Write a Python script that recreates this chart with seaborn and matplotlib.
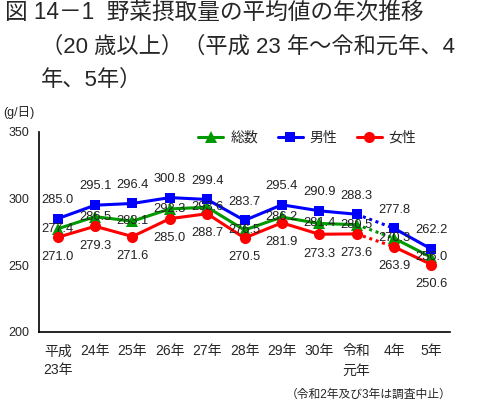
import matplotlib
matplotlib.use("Agg")
import matplotlib.pyplot as plt
import seaborn as sns
import pandas as pd
import numpy as np

categories = ["平成\n23年", "24年", "25年", "26年", "27年", "28年", "29年", "30年", "令和\n元年", "4年", "5年"]
total = [277.4, 286.5, 283.1, 292.3, 293.6, 276.5, 286.2, 281.4, 280.5, 270.3, 256.0]
male = [285.0, 295.1, 296.4, 300.8, 299.4, 283.7, 295.4, 290.9, 288.3, 277.8, 262.2]
female = [271.0, 279.3, 271.6, 285.0, 288.7, 270.5, 281.9, 273.3, 273.6, 263.9, 250.6]
y_ticks = [200, 250, 300, 350]

sns.set_theme(style="white")
plt.rcParams["font.family"] = ["Liberation Sans", "Noto Sans CJK JP", "DejaVu Sans"]

fig = plt.figure(figsize=(4.82, 4.0), dpi=100)
ax = fig.add_axes([39/482, 1-332/400, 411/482, 200/400])

series = [
    ("総数", total, "#009900", "^", 8),
    ("男性", male, "#0000FF", "s", 7.5),
    ("女性", female, "#FF0000", "o", 8),
]

x = np.arange(len(categories))
handles = []
for name, vals, col, mk, ms in series:
    df = pd.DataFrame({"x": x, "y": vals})
    seg1 = df.iloc[0:9]
    seg2 = df.iloc[8:10]
    seg3 = df.iloc[9:11]
    sns.lineplot(data=seg1, x="x", y="y", ax=ax, color=col, lw=2.2, marker=mk,
                 markersize=ms, markeredgewidth=0, zorder=3)
    sns.lineplot(data=seg2, x="x", y="y", ax=ax, color=col, lw=2.2, linestyle=(0, (1, 1.2)),
                 zorder=2)
    sns.lineplot(data=seg3, x="x", y="y", ax=ax, color=col, lw=2.2, marker=mk,
                 markersize=ms, markeredgewidth=0, zorder=3)
    handles.append(plt.Line2D([], [], color=col, lw=2.2, marker=mk, markersize=ms,
                              markeredgewidth=0, label=name))

lab_fs = 9.3
for i in range(len(categories)):
    ax.annotate(f"{male[i]:.1f}", (x[i], male[i]), xytext=(0, 13.5), textcoords="offset points",
                ha="center", va="center", fontsize=lab_fs, color="#222222", zorder=5)
    ax.annotate(f"{total[i]:.1f}", (x[i], total[i]), xytext=(0, 0), textcoords="offset points",
                ha="center", va="center", fontsize=lab_fs, color="#222222", zorder=5)
    ax.annotate(f"{female[i]:.1f}", (x[i], female[i]), xytext=(0, -14), textcoords="offset points",
                ha="center", va="center", fontsize=lab_fs, color="#222222", zorder=5)

ax.set_xlim(-0.5, len(categories) - 0.5)
ax.set_ylim(200, 350)
ax.set_yticks(y_ticks)
ax.set_yticklabels([str(v) for v in y_ticks], fontsize=9)
ax.set_xticks(x)
ax.set_xticklabels(categories, fontsize=10, linespacing=1.45)
ax.set_xticks(np.arange(-0.5, len(categories)), minor=True)
ax.tick_params(axis="x", which="major", length=0, pad=9)
ax.tick_params(axis="x", which="minor", length=4, width=1, color="black", direction="out")
ax.tick_params(axis="y", length=4, width=1, color="black", direction="out", pad=3)
ax.set_xlabel("")
ax.set_ylabel("")
for s in ["top", "right"]:
    ax.spines[s].set_visible(False)
for s in ["left", "bottom"]:
    ax.spines[s].set_color("black")
    ax.spines[s].set_linewidth(1.2)
ax.grid(False)

leg = ax.legend(handles=handles, loc="center", bbox_to_anchor=(0.653, 0.97), ncol=3,
                frameon=False, fontsize=10, handlelength=1.8, handletextpad=0.5,
                columnspacing=1.4)

fig.text(5/482, 1-12/400, "図 14－1  野菜摂取量の平均値の年次推移", fontsize=16.3, va="center", ha="left")
fig.text(41/482, 1-47/400, "（20 歳以上）（平成 23 年～令和元年、4", fontsize=16, va="center", ha="left")
fig.text(41/482, 1-80/400, "年、5年）", fontsize=16, va="center", ha="left")
fig.text(3/482, 1-113/400, "(g/日)", fontsize=9, va="center", ha="left")
fig.text(452/482, 1-395/400, "（令和2年及び3年は調査中止）", fontsize=8.5, va="center", ha="right")

fig.savefig("out.png", dpi=100)
